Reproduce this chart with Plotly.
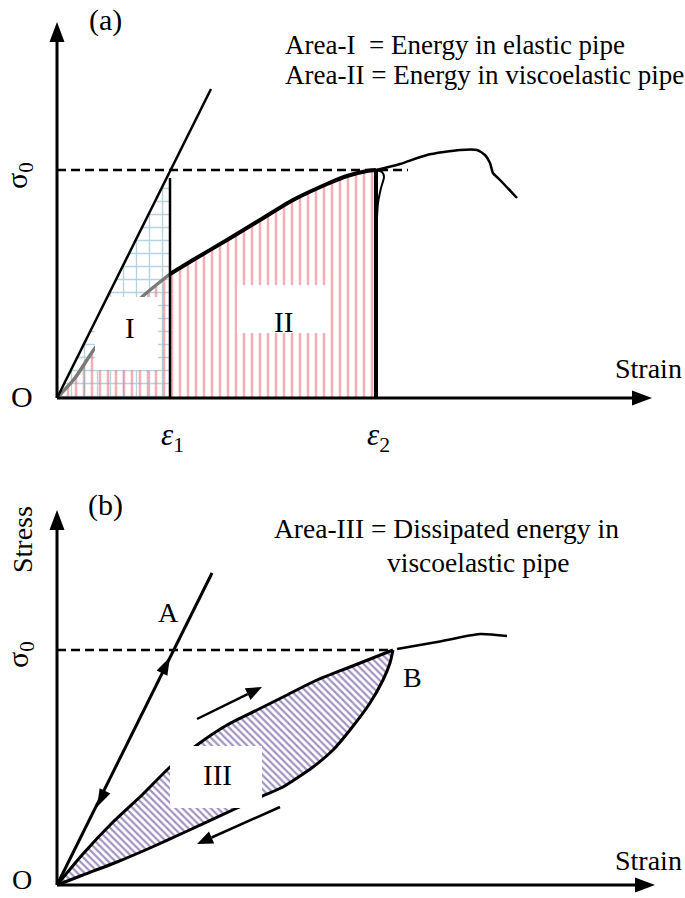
import numpy as np
import plotly.graph_objects as go

# ---------------- Panel (a) data (strain, stress in drawing units) ----------------
A_SIGMA0 = 228
A_EPS1 = 113
A_EPS2 = 319
A_DASH_END = 351
A_AXIS_X_END = 595
A_AXIS_Y_END = 376
A_ELASTIC_STRAIN = [0, 154]
A_ELASTIC_STRESS = [0, 309]
A_VISCO_LOW_STRAIN = [0, 18, 38, 63, 86, 113]
A_VISCO_LOW_STRESS = [0, 20, 50, 78, 102, 124]
A_VISCO_MID_STRAIN = [113, 136, 170, 203, 236, 270, 290, 310, 319]
A_VISCO_MID_STRESS = [124, 138, 158, 178, 198, 214, 222, 227, 228]
A_VISCO_TAIL_STRAIN = [319, 343, 370, 403, 420, 428, 433, 436, 443, 460]
A_VISCO_TAIL_STRESS = [228, 234, 243, 248, 248, 243, 235, 225, 218, 200]
A_LOOP_STRAIN = [319, 325, 327, 324, 321, 320]
A_LOOP_STRESS = [228, 226, 221, 210, 195, 180]

# ---------------- Panel (b) data ----------------
B_SIGMA0 = 235
B_DASH_END = 336
B_AXIS_X_END = 598
B_AXIS_Y_END = 375
B_ELASTIC_STRAIN = [0, 155]
B_ELASTIC_STRESS = [0, 312]
B_LOAD_STRAIN = [0, 25, 55, 85, 113, 140, 170, 200, 230, 260, 293, 336]
B_LOAD_STRESS = [0, 30, 62, 90, 118, 140, 160, 175, 190, 205, 218, 235]
B_UNLOAD_STRAIN = [336, 333, 326, 313, 293, 276, 256, 226, 203, 180, 126, 93, 60, 26, 0]
B_UNLOAD_STRESS = [235, 222, 205, 182, 155, 135, 118, 98, 88, 77, 52, 37, 23, 10, 0]
B_TAIL_STRAIN = [340, 380, 423, 450]
B_TAIL_STRESS = [236, 243, 251, 249]
B_ELASTIC_ARROW_TIPS = [(113, 228, 1), (40, 78, -1)]  # (strain, stress, direction)
B_LOAD_ARROW = [(140, 166), (205, 198)]     # tail, tip
B_UNLOAD_ARROW = [(223, 78), (140, 41)]     # tail, tip

FONT = "Liberation Serif"
BLACK = "#000000"
PINK = "#ea5f6e"
TEAL = "#6fa7bb"
PURPLE = "#43287f"

fig = go.Figure()


def line(xs, ys, ax, width=2.5, color=BLACK, dash=None):
    fig.add_trace(go.Scatter(x=xs, y=ys, mode="lines", xaxis=ax[0], yaxis=ax[1],
                             line=dict(color=color, width=width, dash=dash, shape="spline",
                                       smoothing=0.6),
                             hoverinfo="skip", showlegend=False))


def poly(xs, ys, ax, fillcolor=None, pattern=None):
    fig.add_trace(go.Scatter(x=list(xs) + [xs[0]], y=list(ys) + [ys[0]], mode="lines",
                             xaxis=ax[0], yaxis=ax[1], fill="toself",
                             fillcolor=fillcolor if fillcolor else "rgba(0,0,0,0)",
                             fillpattern=pattern, line=dict(width=0, color="rgba(0,0,0,0)"),
                             hoverinfo="skip", showlegend=False))


def arrowhead(tip, frm, ax, length=18, width=14):
    t = np.array(tip, float)
    f = np.array(frm, float)
    d = t - f
    d /= np.linalg.norm(d)
    n = np.array([-d[1], d[0]])
    base = t - d * length
    p1 = base + n * width / 2
    p2 = base - n * width / 2
    poly([t[0], p1[0], p2[0]], [t[1], p1[1], p2[1]], ax, fillcolor=BLACK)
    return base


def arrow(tail, tip, ax, width=2.5, length=18, hw=14):
    base = arrowhead(tip, tail, ax, length, hw)
    line([tail[0], base[0]], [tail[1], base[1]], ax, width=width)


AX_A = ("x", "y")
AX_B = ("x2", "y2")

# ================= Panel (a) =================
vx = A_VISCO_LOW_STRAIN + A_VISCO_MID_STRAIN[1:]
vy = A_VISCO_LOW_STRESS + A_VISCO_MID_STRESS[1:]
poly(vx + [A_EPS2, 0], vy + [0, 0], AX_A,
     pattern=dict(shape="|", fgcolor=PINK, bgcolor="rgba(0,0,0,0)", size=8, solidity=0.32,
                  fillmode="overlay"))
e_slope = A_ELASTIC_STRESS[1] / A_ELASTIC_STRAIN[1]
poly([0, A_EPS1, A_EPS1], [0, A_EPS1 * e_slope, 0], AX_A,
     pattern=dict(shape="+", fgcolor=TEAL, bgcolor="rgba(0,0,0,0)", size=13, solidity=0.2,
                  fillmode="overlay"))
line(A_VISCO_LOW_STRAIN, A_VISCO_LOW_STRESS, AX_A, width=3.5, color="#7a7a7a")
poly([38, 38, 50, 101, 101], [28, 77, 101, 101, 28], AX_A, fillcolor="white")
poly([180, 180, 270, 270], [65, 113, 113, 65], AX_A, fillcolor="white")
line(A_VISCO_MID_STRAIN, A_VISCO_MID_STRESS, AX_A, width=4)
line(A_VISCO_TAIL_STRAIN, A_VISCO_TAIL_STRESS, AX_A, width=2.5)
line(A_LOOP_STRAIN, A_LOOP_STRESS, AX_A, width=2)
line(A_ELASTIC_STRAIN, A_ELASTIC_STRESS, AX_A, width=2.5)
line([A_EPS1, A_EPS1], [0, A_SIGMA0 - 8], AX_A, width=2.5)
line([A_EPS2, A_EPS2], [0, A_SIGMA0], AX_A, width=4)
line([0, A_DASH_END], [A_SIGMA0, A_SIGMA0], AX_A, width=2.5, dash="9px,5px")
arrow((0, 0), (0, A_AXIS_Y_END), AX_A, width=3, length=20, hw=15)
arrow((0, 0), (A_AXIS_X_END, 0), AX_A, width=3, length=20, hw=15)

# ================= Panel (b) =================
poly(B_LOAD_STRAIN + B_UNLOAD_STRAIN[1:-1], B_LOAD_STRESS + B_UNLOAD_STRESS[1:-1], AX_B,
     pattern=dict(shape="\\", fgcolor=PURPLE, bgcolor="rgba(0,0,0,0)", size=5, solidity=0.45,
                  fillmode="overlay"))
line(B_LOAD_STRAIN, B_LOAD_STRESS, AX_B, width=3)
line(B_UNLOAD_STRAIN, B_UNLOAD_STRESS, AX_B, width=3)
poly([113, 113, 205, 205], [77, 139, 139, 77], AX_B, fillcolor="white")
line(B_TAIL_STRAIN, B_TAIL_STRESS, AX_B, width=2.5)
line(B_ELASTIC_STRAIN, B_ELASTIC_STRESS, AX_B, width=3)
line([0, B_DASH_END], [B_SIGMA0, B_SIGMA0], AX_B, width=2.5, dash="9px,5px")
ev = np.array([B_ELASTIC_STRAIN[1], B_ELASTIC_STRESS[1]], float)
ev /= np.linalg.norm(ev)
for sx, sy, sgn in B_ELASTIC_ARROW_TIPS:
    tip = np.array([sx, sy], float)
    arrowhead(tip, tip - sgn * ev, AX_B, length=18, width=12)
arrow(B_LOAD_ARROW[0], B_LOAD_ARROW[1], AX_B, width=2.5, length=16, hw=13)
arrow(B_UNLOAD_ARROW[0], B_UNLOAD_ARROW[1], AX_B, width=2.5, length=16, hw=13)
arrow((0, 0), (0, B_AXIS_Y_END), AX_B, width=3, length=20, hw=15)
arrow((0, 0), (B_AXIS_X_END, 0), AX_B, width=3, length=20, hw=15)

# ================= Text =================
def txt(x, y, s, ax, size=24, xanchor="center", angle=0):
    fig.add_annotation(x=x, y=y, text=s, xref=ax[0], yref=ax[1], showarrow=False,
                       xanchor=xanchor, yanchor="middle", textangle=angle, borderpad=0,
                       font=dict(family=FONT, size=size, color=BLACK))

txt(48, 378, "(a)", AX_A, size=30)
txt(227, 353, "Area-I\u00a0\u00a0= Energy in elastic pipe", AX_A, size=27, xanchor="left")
txt(227, 323, "Area-II = Energy in viscoelastic pipe", AX_A, size=27, xanchor="left")
txt(-38, 222, "σ<sub>0</sub>", AX_A, size=30, angle=-90)
txt(-35, 2, "O", AX_A, size=30)
txt(591, 30, "Strain", AX_A, size=28)
txt(A_EPS1 + 2, -39, "<i>ε</i><sub>1</sub>", AX_A, size=31)
txt(A_EPS2 + 2, -39, "<i>ε</i><sub>2</sub>", AX_A, size=31)
txt(73, 70, "I", AX_A, size=29)
txt(226, 76, "II", AX_A, size=29)

txt(48, 380, "(b)", AX_B, size=30)
txt(-35, 345, "Stress", AX_B, size=28, angle=-90)
txt(-37, 230, "σ<sub>0</sub>", AX_B, size=30, angle=-90)
txt(216, 357, "Area-III = Dissipated energy in", AX_B, size=27.5, xanchor="left")
txt(329, 323, "viscoelastic pipe", AX_B, size=27.5, xanchor="left")
txt(111, 273, "A", AX_B, size=28)
txt(355, 208, "B", AX_B, size=28)
txt(160, 110, "III", AX_B, size=29)
txt(-35, 6, "O", AX_B, size=28)
txt(591, 25, "Strain", AX_B, size=28)

hidden = dict(visible=False, fixedrange=True)
fig.update_layout(
    width=685, height=898, margin=dict(l=0, r=0, t=0, b=0),
    paper_bgcolor="white", plot_bgcolor="white", showlegend=False, hovermode=False,
    font=dict(family=FONT),
    xaxis=dict(domain=[0, 1], range=[-57, 628], anchor="y", **hidden),
    yaxis=dict(domain=[0.5, 1], range=[-51, 398], anchor="x", **hidden),
    xaxis2=dict(domain=[0, 1], range=[-57, 628], anchor="y2", **hidden),
    yaxis2=dict(domain=[0, 0.5], range=[-13, 436], anchor="x2", **hidden),
)
fig.write_html("out.html")
